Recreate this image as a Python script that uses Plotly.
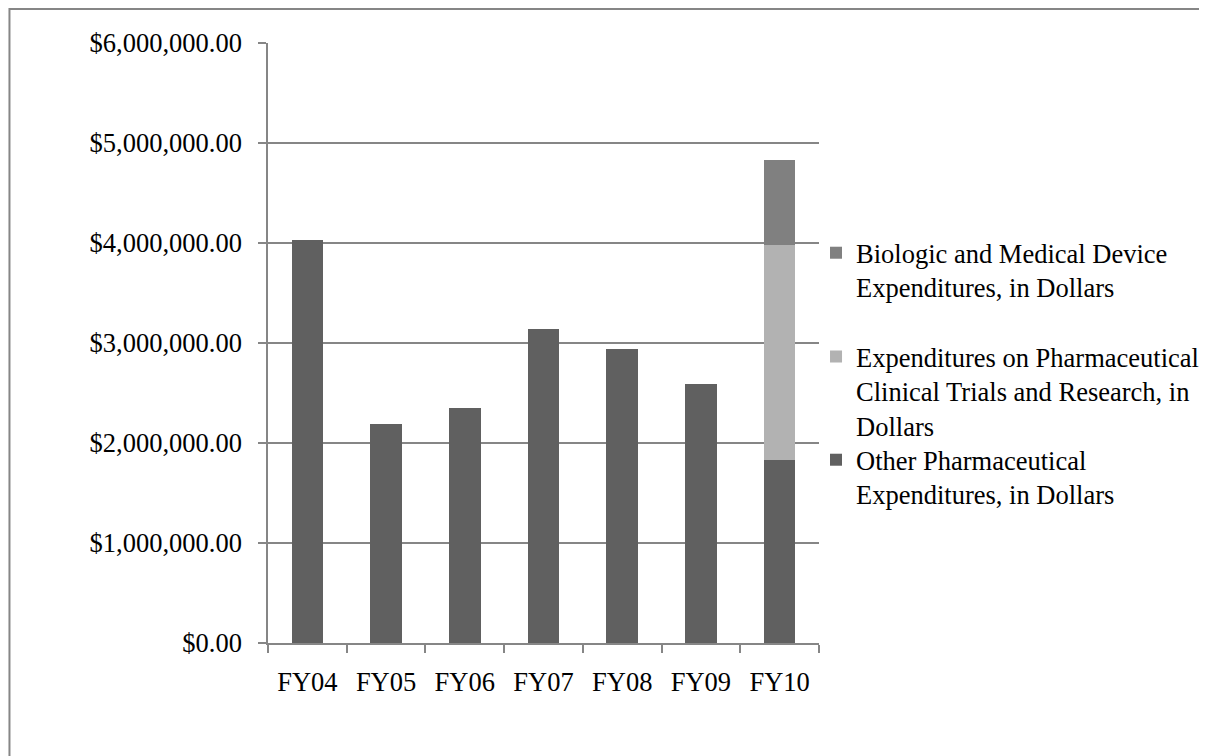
import plotly.graph_objects as go

categories = ["FY04", "FY05", "FY06", "FY07", "FY08", "FY09", "FY10"]
other_pharma = [4030000, 2190000, 2350000, 3140000, 2940000, 2590000, 1830000]
clinical_trials = [None, None, None, None, None, None, 2150000]
biologic_device = [None, None, None, None, None, None, 850000]
y_ticks = [0, 1000000, 2000000, 3000000, 4000000, 5000000, 6000000]
y_tick_labels = ["$%s" % format(v, ",.2f") for v in y_ticks]

FONT = "Liberation Serif"
FS = 26.5
GRID = "#868686"

fig = go.Figure()
fig.add_trace(go.Bar(x=categories, y=other_pharma, name="Other Pharmaceutical<br>Expenditures, in Dollars",
                     marker=dict(color="#606060", line=dict(width=0)), legend="legend3"))
fig.add_trace(go.Bar(x=categories, y=clinical_trials,
                     name="Expenditures on Pharmaceutical<br>Clinical Trials and Research, in<br>Dollars",
                     marker=dict(color="#b2b2b2", line=dict(width=0)), legend="legend2"))
fig.add_trace(go.Bar(x=categories, y=biologic_device,
                     name="Biologic and Medical Device<br>Expenditures, in Dollars",
                     marker=dict(color="#808080", line=dict(width=0)), legend="legend"))

leg_common = dict(x=0.9928, xanchor="left", yanchor="top", valign="top",
                  font=dict(family=FONT, size=FS, color="black"),
                  itemwidth=30, bgcolor="rgba(0,0,0,0)", borderwidth=0)

fig.update_layout(
    barmode="stack",
    bargap=0.6,
    width=1207, height=756,
    margin=dict(l=260, r=395, t=35, b=121, pad=0),
    paper_bgcolor="white", plot_bgcolor="white",
    font=dict(family=FONT, size=FS, color="black"),
    showlegend=True,
    legend=dict(y=0.69, **leg_common),
    legend2=dict(y=0.517, **leg_common),
    legend3=dict(y=0.345, **leg_common),
    xaxis=dict(showline=True, linecolor=GRID, linewidth=1.5, ticks="outside", tickson="boundaries",
               ticklen=8, tickcolor=GRID, tickwidth=1.5, showgrid=False, ticklabelstandoff=14,
               tickfont=dict(family=FONT, size=FS)),
    yaxis=dict(range=[0, 6000000], tickvals=y_ticks, ticktext=y_tick_labels, showgrid=True,
               gridcolor=GRID, gridwidth=1.5, showline=True, linecolor=GRID, linewidth=1.5,
               ticks="outside", ticklen=8, tickcolor=GRID, tickwidth=1.5, zeroline=False,
               ticklabelstandoff=11, tickfont=dict(family=FONT, size=FS)),
    shapes=[dict(type="rect", xref="paper", yref="paper", x0=-0.4692, x1=1.8, y0=-0.3, y1=1.0567,
                 line=dict(color="#868686", width=2), fillcolor="rgba(0,0,0,0)", layer="below")],
)

fig.write_html("out.html")
